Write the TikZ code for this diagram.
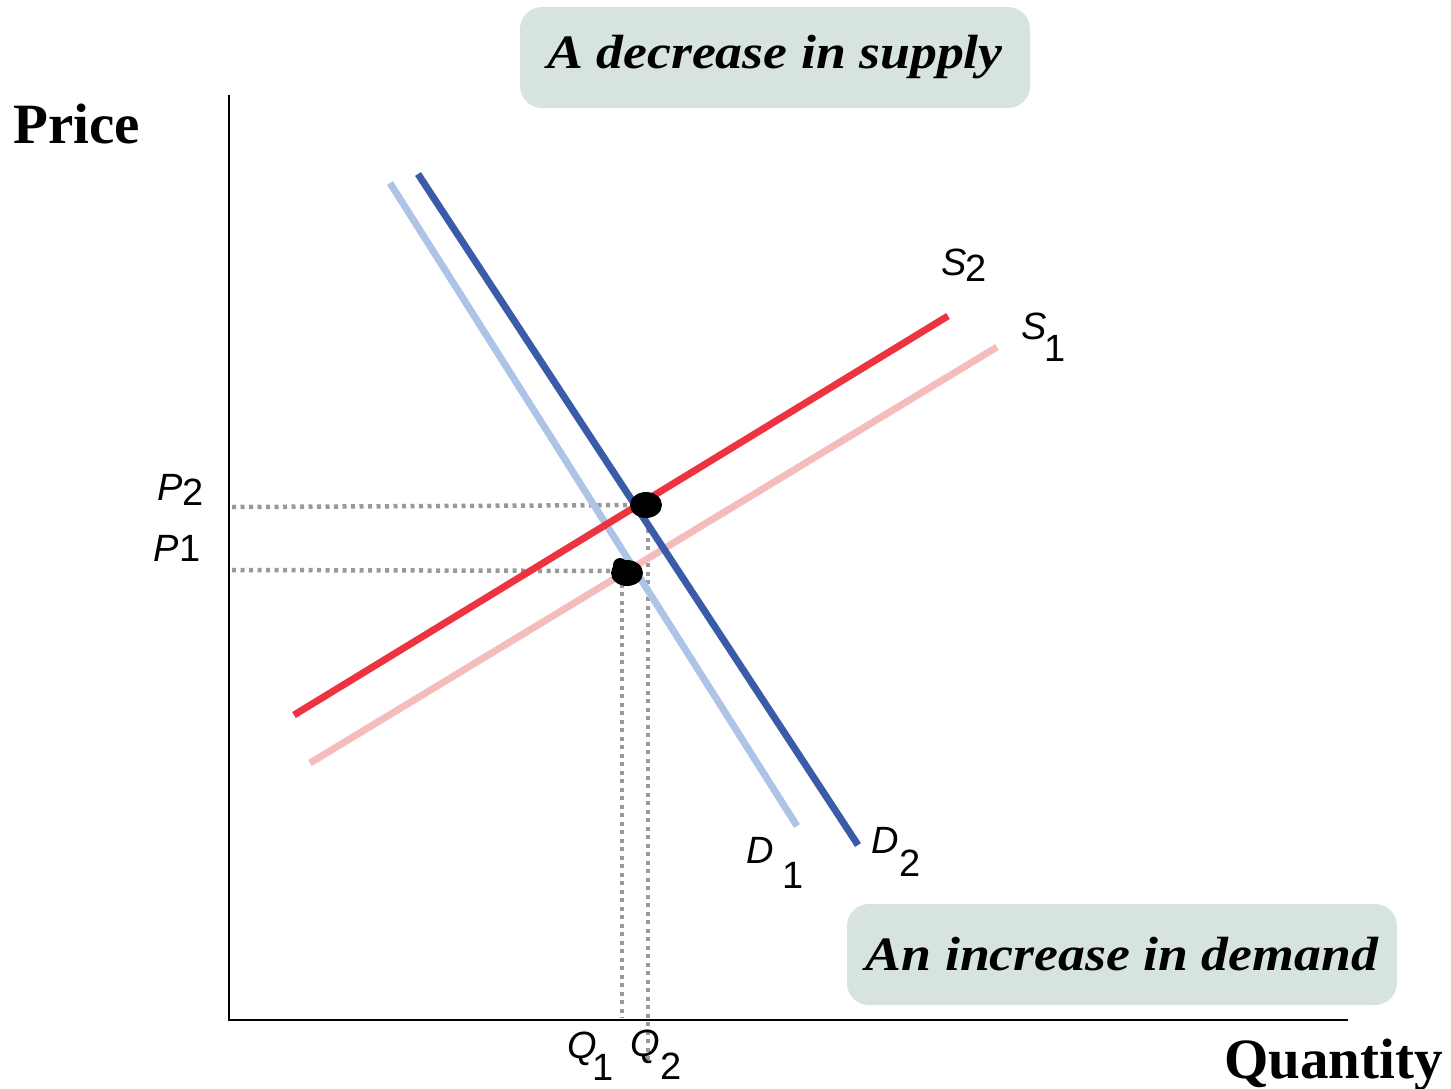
\documentclass[tikz,border=0pt]{standalone}
\usepackage{fontspec}
\setmainfont{Liberation Serif}
\newfontfamily\lab{Liberation Sans}
\usetikzlibrary{calc}
\definecolor{dlight}{HTML}{AEC4E6}
\definecolor{ddark}{HTML}{3A5BA8}
\definecolor{sred}{HTML}{EE3340}
\definecolor{spink}{HTML}{F5BCBC}
\definecolor{boxfill}{HTML}{D6E3E0}
\definecolor{dotgray}{HTML}{999999}
\tikzset{
  curve/.style={line width=7pt},
  guide/.style={dotgray, line width=4.5pt, dash pattern=on 4pt off 4.5pt},
  axisline/.style={line width=2pt, black},
  lbl/.style={font=\lab\fontsize{38}{42}\selectfont, inner sep=0pt, anchor=base},
  ital/.style={lbl, font=\lab\itshape\fontsize{38}{42}\selectfont},
  titlebox/.style={fill=boxfill, rounded corners=22pt, minimum width=510pt, minimum height=101pt, inner sep=0pt,
    font=\bfseries\itshape\fontsize{48}{52}\selectfont},
  axlabel/.style={font=\bfseries\fontsize{57}{60}\selectfont, inner sep=0pt, anchor=base west},
}
\begin{document}
\begin{tikzpicture}[x=1pt,y=-1pt]
\useasboundingbox (0,0) rectangle (1451,1088);
% boxes
\node[titlebox] (supply) at (775,57.5) {\scalebox{1.12}[1]{A decrease in supply}};
\node[titlebox, minimum width=550pt] (demand) at (1122,954.5) {\scalebox{1.12}[1]{An increase in demand}};
% axes
\coordinate (o) at (229,1020);
\coordinate (ytop) at (229,95);
\coordinate (xend) at (1348,1020);
\draw[axisline] (ytop) -- (o) -- (xend);
\node[axlabel] (price) at (13,143) {Price};
\node[axlabel] (qty) at (1224,1078) {Quantity};
% guides
\coordinate (e2) at (646,505);
\coordinate (e1) at (626,571);
\draw[guide] (232,507) -- (e2);
\draw[guide] (232,570) -- (e1);
\draw[guide] (622,575) -- (622,1018);
\draw[guide] (648,512) -- (648,1060);
% curves
\coordinate (d1a) at (390,183); \coordinate (d1b) at (797,826);
\coordinate (d2a) at (418,174); \coordinate (d2b) at (858,845);
\coordinate (s2a) at (294,715); \coordinate (s2b) at (948,316);
\coordinate (s1a) at (310,763); \coordinate (s1b) at (997,347);
\draw[curve, spink] (s1a) -- (s1b);
\draw[curve, dlight] (d1a) -- (d1b);
\draw[curve, sred] (s2a) -- (s2b);
\draw[curve, ddark] (d2a) -- (d2b);
% equilibrium dots
\fill[black] (e2) ellipse [x radius=16pt, y radius=13pt];
\fill[black] (627,573) ellipse [x radius=16pt, y radius=13pt];
\fill[black] (620,565) circle [radius=7pt];
% labels
\node[ital] (p2) at (170,500) {P};
\node[lbl] (p2s) at (193,505) {2};
\node[ital] (p1) at (166,561) {P};
\node[lbl] (p1s) at (190,561) {1};
\node[ital] (s2) at (954,275) {S};
\node[lbl] (s2s) at (976,281) {2};
\node[ital] (s1) at (1034,339) {S};
\node[lbl] (s1s) at (1055,361) {1};
\node[ital] (d1) at (760,863) {D};
\node[lbl] (d1s) at (793,888) {1};
\node[ital] (d2) at (885,853) {D};
\node[lbl] (d2s) at (910,876) {2};
\node[ital] (q1) at (582,1058) {Q};
\node[lbl] (q1s) at (603,1080) {1};
\node[ital] (q2) at (645,1056) {Q};
\node[lbl] (q2s) at (671,1079) {2};
\end{tikzpicture}
\end{document}
